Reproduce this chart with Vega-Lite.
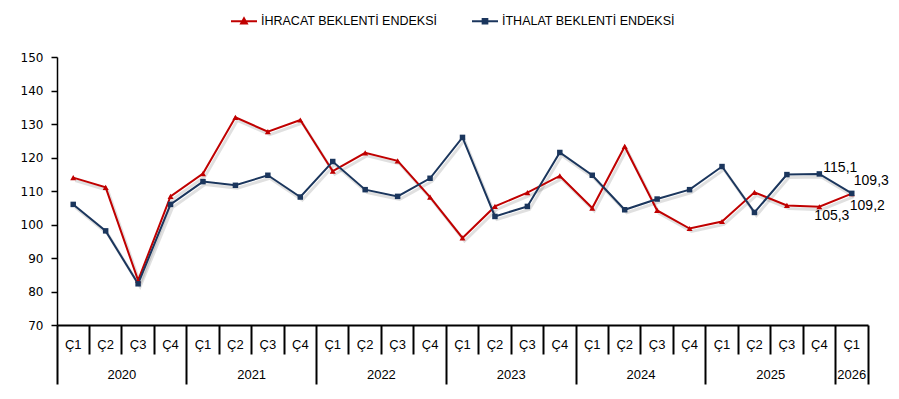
{
  "$schema": "https://vega.github.io/schema/vega-lite/v6.json",
  "width": 811,
  "height": 268,
  "autosize": "none",
  "padding": {"left": 57, "top": 57, "right": 31, "bottom": 74},
  "background": "white",
  "config": {"view": {"stroke": null}, "font": "Liberation Sans"},
  "data": {"values": [
    {"period": "2020-Ç1", "series": "İHRACAT BEKLENTİ ENDEKSİ", "value": 114.0},
    {"period": "2020-Ç2", "series": "İHRACAT BEKLENTİ ENDEKSİ", "value": 111.1},
    {"period": "2020-Ç3", "series": "İHRACAT BEKLENTİ ENDEKSİ", "value": 83.3},
    {"period": "2020-Ç4", "series": "İHRACAT BEKLENTİ ENDEKSİ", "value": 108.4},
    {"period": "2021-Ç1", "series": "İHRACAT BEKLENTİ ENDEKSİ", "value": 115.2},
    {"period": "2021-Ç2", "series": "İHRACAT BEKLENTİ ENDEKSİ", "value": 132.0},
    {"period": "2021-Ç3", "series": "İHRACAT BEKLENTİ ENDEKSİ", "value": 127.7},
    {"period": "2021-Ç4", "series": "İHRACAT BEKLENTİ ENDEKSİ", "value": 131.2},
    {"period": "2022-Ç1", "series": "İHRACAT BEKLENTİ ENDEKSİ", "value": 115.9},
    {"period": "2022-Ç2", "series": "İHRACAT BEKLENTİ ENDEKSİ", "value": 121.4},
    {"period": "2022-Ç3", "series": "İHRACAT BEKLENTİ ENDEKSİ", "value": 119.0},
    {"period": "2022-Ç4", "series": "İHRACAT BEKLENTİ ENDEKSİ", "value": 108.2},
    {"period": "2023-Ç1", "series": "İHRACAT BEKLENTİ ENDEKSİ", "value": 96.0},
    {"period": "2023-Ç2", "series": "İHRACAT BEKLENTİ ENDEKSİ", "value": 105.4},
    {"period": "2023-Ç3", "series": "İHRACAT BEKLENTİ ENDEKSİ", "value": 109.5},
    {"period": "2023-Ç4", "series": "İHRACAT BEKLENTİ ENDEKSİ", "value": 114.5},
    {"period": "2024-Ç1", "series": "İHRACAT BEKLENTİ ENDEKSİ", "value": 104.9},
    {"period": "2024-Ç2", "series": "İHRACAT BEKLENTİ ENDEKSİ", "value": 123.3},
    {"period": "2024-Ç3", "series": "İHRACAT BEKLENTİ ENDEKSİ", "value": 104.2},
    {"period": "2024-Ç4", "series": "İHRACAT BEKLENTİ ENDEKSİ", "value": 98.8},
    {"period": "2025-Ç1", "series": "İHRACAT BEKLENTİ ENDEKSİ", "value": 100.9},
    {"period": "2025-Ç2", "series": "İHRACAT BEKLENTİ ENDEKSİ", "value": 109.6},
    {"period": "2025-Ç3", "series": "İHRACAT BEKLENTİ ENDEKSİ", "value": 105.7},
    {"period": "2025-Ç4", "series": "İHRACAT BEKLENTİ ENDEKSİ", "value": 105.3, "label": "105,3"},
    {"period": "2026-Ç1", "series": "İHRACAT BEKLENTİ ENDEKSİ", "value": 109.2, "label": "109,2"},
    {"period": "2020-Ç1", "series": "İTHALAT BEKLENTİ ENDEKSİ", "value": 106.0},
    {"period": "2020-Ç2", "series": "İTHALAT BEKLENTİ ENDEKSİ", "value": 98.1},
    {"period": "2020-Ç3", "series": "İTHALAT BEKLENTİ ENDEKSİ", "value": 82.3},
    {"period": "2020-Ç4", "series": "İTHALAT BEKLENTİ ENDEKSİ", "value": 106.0},
    {"period": "2021-Ç1", "series": "İTHALAT BEKLENTİ ENDEKSİ", "value": 112.8},
    {"period": "2021-Ç2", "series": "İTHALAT BEKLENTİ ENDEKSİ", "value": 111.7},
    {"period": "2021-Ç3", "series": "İTHALAT BEKLENTİ ENDEKSİ", "value": 114.7},
    {"period": "2021-Ç4", "series": "İTHALAT BEKLENTİ ENDEKSİ", "value": 108.2},
    {"period": "2022-Ç1", "series": "İTHALAT BEKLENTİ ENDEKSİ", "value": 118.8},
    {"period": "2022-Ç2", "series": "İTHALAT BEKLENTİ ENDEKSİ", "value": 110.4},
    {"period": "2022-Ç3", "series": "İTHALAT BEKLENTİ ENDEKSİ", "value": 108.4},
    {"period": "2022-Ç4", "series": "İTHALAT BEKLENTİ ENDEKSİ", "value": 113.8},
    {"period": "2023-Ç1", "series": "İTHALAT BEKLENTİ ENDEKSİ", "value": 126.0},
    {"period": "2023-Ç2", "series": "İTHALAT BEKLENTİ ENDEKSİ", "value": 102.4},
    {"period": "2023-Ç3", "series": "İTHALAT BEKLENTİ ENDEKSİ", "value": 105.4},
    {"period": "2023-Ç4", "series": "İTHALAT BEKLENTİ ENDEKSİ", "value": 121.5},
    {"period": "2024-Ç1", "series": "İTHALAT BEKLENTİ ENDEKSİ", "value": 114.7},
    {"period": "2024-Ç2", "series": "İTHALAT BEKLENTİ ENDEKSİ", "value": 104.4},
    {"period": "2024-Ç3", "series": "İTHALAT BEKLENTİ ENDEKSİ", "value": 107.6},
    {"period": "2024-Ç4", "series": "İTHALAT BEKLENTİ ENDEKSİ", "value": 110.4},
    {"period": "2025-Ç1", "series": "İTHALAT BEKLENTİ ENDEKSİ", "value": 117.3},
    {"period": "2025-Ç2", "series": "İTHALAT BEKLENTİ ENDEKSİ", "value": 103.6},
    {"period": "2025-Ç3", "series": "İTHALAT BEKLENTİ ENDEKSİ", "value": 114.9},
    {"period": "2025-Ç4", "series": "İTHALAT BEKLENTİ ENDEKSİ", "value": 115.1, "label": "115,1"},
    {"period": "2026-Ç1", "series": "İTHALAT BEKLENTİ ENDEKSİ", "value": 109.3, "label": "109,3"}
  ]},
  "encoding": {
    "x": {"field": "period", "type": "ordinal", "sort": null, "scale": {"type": "band", "paddingInner": 0, "paddingOuter": 0}, "axis": null},
    "y": {
      "field": "value", "type": "quantitative",
      "scale": {"domain": [70, 150], "nice": false, "zero": false},
      "axis": {
        "title": null, "values": [70, 80, 90, 100, 110, 120, 130, 140, 150], "grid": false,
        "domainColor": "#000", "domainWidth": 1.5, "tickColor": "#000", "tickWidth": 1.5, "tickSize": 6,
        "labelFont": "DejaVu Sans", "labelFontSize": 12, "labelColor": "#000", "labelPadding": 8
      }
    },
    "color": {
      "field": "series", "type": "nominal",
      "scale": {"domain": ["İHRACAT BEKLENTİ ENDEKSİ", "İTHALAT BEKLENTİ ENDEKSİ"], "range": ["#C00000", "#1B365D"]},
      "legend": {
        "orient": "none", "legendX": 173, "legendY": -50, "direction": "horizontal", "title": null,
        "labelFont": "Liberation Sans", "labelFontSize": 12.5, "labelColor": "#000", "labelOffset": 3, "labelLimit": 400,
        "symbolSize": 676, "columnPadding": 30, "padding": 0, "symbolStrokeWidth": 2,
        "encode": {
          "symbols": {
            "update": {
              "shape": [{"test": "datum.value === 'İHRACAT BEKLENTİ ENDEKSİ'", "value": "M-1,0H1M-0.22,0.18L0,-0.22L0.22,0.18Z"}, {"value": "M-1,0H1M-0.18,-0.18H0.18V0.18H-0.18Z"}],
              "fill": [{"test": "datum.value === 'İHRACAT BEKLENTİ ENDEKSİ'", "value": "#C00000"}, {"value": "#1B365D"}],
              "stroke": [{"test": "datum.value === 'İHRACAT BEKLENTİ ENDEKSİ'", "value": "#C00000"}, {"value": "#1B365D"}],
              "size": {"value": 676},
              "strokeWidth": {"value": 2}
            }
          }
        }
      }
    }
  },
  "layer": [
    {
      "mark": {"type": "line", "strokeWidth": 3, "xOffset": 2, "yOffset": 3, "opacity": 0.12, "color": "#000"},
      "encoding": {"detail": {"field": "series"}, "color": {"value": "#000"}}
    },
    {
      "mark": {"type": "line", "strokeWidth": 2},
      "encoding": {
        "x": {
          "field": "period", "type": "ordinal", "sort": null,
          "axis": {
            "title": null, "orient": "bottom", "grid": false,
            "bandPosition": 1, "tickExtra": true,
            "tickSize": {"condition": {"test": "!datum.value || indexof(datum.value, 'Ç4') >= 0 || datum.value === '2026-Ç1'", "value": 59}, "value": 29},
            "labelPadding": {"condition": {"test": "!datum.value || indexof(datum.value, 'Ç4') >= 0 || datum.value === '2026-Ç1'", "value": -40}, "value": -10},
            "labelBaseline": "middle", "labelAngle": 0, "labelOverlap": false,
            "labelExpr": "datum.value ? slice(datum.value, 5) : ''",
            "labelFont": "Liberation Sans", "labelFontSize": 13, "labelColor": "#000",
            "tickColor": "#000", "tickWidth": 2, "domainColor": "#000", "domainWidth": 2
          }
        }
      }
    },
    {
      "transform": [{"filter": "datum.series === 'İHRACAT BEKLENTİ ENDEKSİ'"}],
      "mark": {"type": "point", "shape": "triangle-up", "filled": true, "size": 36, "opacity": 1},
      "encoding": {
        "x": {
          "field": "period", "type": "ordinal", "sort": null,
          "axis": {
            "title": null, "orient": "bottom", "grid": false,
            "values": ["2020-Ç2", "2021-Ç2", "2022-Ç2", "2023-Ç2", "2024-Ç2", "2025-Ç2", "2026-Ç1"],
            "labelExpr": "slice(datum.value, 0, 4)",
            "labelOffset": {"condition": {"test": "datum.value === '2026-Ç1'", "value": 0}, "value": 16.2},
            "ticks": false, "domain": false, "labelPadding": 49, "labelBaseline": "middle", "labelAngle": 0, "labelOverlap": false,
            "labelFont": "Liberation Sans", "labelFontSize": 13, "labelColor": "#000"
          }
        }
      }
    },
    {
      "transform": [{"filter": "datum.series === 'İTHALAT BEKLENTİ ENDEKSİ'"}],
      "mark": {"type": "point", "shape": "square", "filled": true, "size": 30, "opacity": 1}
    },
    {
      "transform": [{"filter": "datum.series === 'İTHALAT BEKLENTİ ENDEKSİ' && datum.period === '2025-Ç4'"}],
      "mark": {"type": "text", "align": "left", "baseline": "middle", "dx": 4, "dy": -6, "font": "Liberation Sans", "fontSize": 14},
      "encoding": {"text": {"field": "label"}, "color": {"value": "#000"}}
    },
    {
      "transform": [{"filter": "datum.series === 'İTHALAT BEKLENTİ ENDEKSİ' && datum.period === '2026-Ç1'"}],
      "mark": {"type": "text", "align": "left", "baseline": "middle", "dx": 2, "dy": -12, "font": "Liberation Sans", "fontSize": 14},
      "encoding": {"text": {"field": "label"}, "color": {"value": "#000"}}
    },
    {
      "transform": [{"filter": "datum.series === 'İHRACAT BEKLENTİ ENDEKSİ' && datum.period === '2025-Ç4'"}],
      "mark": {"type": "text", "align": "left", "baseline": "middle", "dx": -5, "dy": 9, "font": "Liberation Sans", "fontSize": 14},
      "encoding": {"text": {"field": "label"}, "color": {"value": "#000"}}
    },
    {
      "transform": [{"filter": "datum.series === 'İHRACAT BEKLENTİ ENDEKSİ' && datum.period === '2026-Ç1'"}],
      "mark": {"type": "text", "align": "left", "baseline": "middle", "dx": -2, "dy": 12, "font": "Liberation Sans", "fontSize": 14},
      "encoding": {"text": {"field": "label"}, "color": {"value": "#000"}}
    }
  ],
  "resolve": {"axis": {"x": "independent"}}
}
